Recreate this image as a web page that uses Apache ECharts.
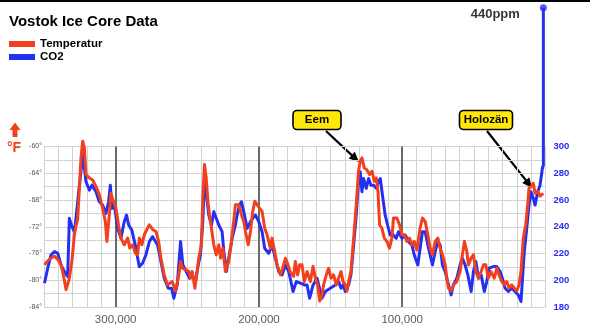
<!DOCTYPE html>
<html><head><meta charset="utf-8">
<script src="https://cdn.jsdelivr.net/npm/echarts@6/dist/echarts.min.js"></script>
<style>html,body{margin:0;padding:0;background:#fff}#c{width:590px;height:332px}</style>
</head><body><div id="c"></div><script>
// ---- data (ages in thousands of years before present) ----
const titleText = 'Vostok Ice Core Data';
const seriesNames = ['Temperatur', 'CO2'];
const xMajorTicks = [100, 200, 300];
const xTickLabels = {300: '300,000', 200: '200,000', 100: '100,000'};
const co2PeakLabel = '440ppm';
const annotations = ['Eem', 'Holozän'];

const temperature = [
[349.7,-77.7],[347.4,-77.1],[345.1,-76.7],[342.7,-76.4],[340.4,-76.9],[338.1,-77.7],[336.5,-79.2],[334.6,-81.4],[333.5,-81.6],[332.3,-79.7],
[330.5,-77.1],[328.8,-73.2],[327.7,-71.9],[326.5,-70.9],[325.3,-66.2],[324.2,-61.7],[323.0,-59.2],[321.8,-60.2],[320.7,-64.2],[318.3,-64.7],
[316.0,-65.0],[313.7,-66.0],[311.4,-67.2],[309.1,-69.2],[307.2,-71.2],[306.1,-74.2],[304.4,-70.2],[303.3,-67.0],[301.6,-68.2],[299.8,-69.2],
[297.9,-71.9],[296.3,-73.7],[294.0,-74.7],[291.6,-73.7],[290.1,-75.2],[288.2,-74.7],[286.3,-75.9],[284.7,-76.2],[283.5,-73.7],[281.7,-74.7],
[280.0,-73.2],[277.7,-72.2],[276.5,-71.7],[274.2,-72.4],[271.9,-72.7],[270.0,-74.2],[268.4,-76.7],[266.1,-79.2],[263.8,-80.7],[262.9,-80.7],
[260.5,-80.2],[258.2,-81.6],[255.9,-79.2],[254.7,-77.2],[253.5,-78.2],[251.2,-78.4],[248.9,-78.7],[247.7,-79.7],[246.6,-78.7],[244.7,-81.2],
[243.1,-78.7],[242.0,-76.7],[240.1,-74.7],[239.2,-67.7],[238.0,-62.7],[236.8,-64.7],[235.4,-68.7],[233.8,-71.2],[231.5,-74.7],[229.8,-76.2],
[228.0,-74.7],[226.8,-76.7],[225.2,-75.2],[223.4,-78.7],[221.1,-77.2],[219.2,-74.2],[217.6,-71.2],[216.4,-68.7],[214.1,-68.7],[212.2,-70.2],
[210.6,-71.2],[209.4,-72.7],[207.5,-74.7],[205.9,-72.7],[204.3,-69.7],[202.9,-68.2],[201.3,-68.7],[199.7,-69.2],[197.8,-69.7],[196.0,-72.2],
[194.3,-73.2],[192.0,-75.2],[190.8,-73.7],[189.0,-75.7],[187.3,-77.7],[185.0,-79.2],[183.4,-78.2],[181.5,-76.7],[179.7,-77.7],[178.1,-78.8],
[175.8,-79.4],[174.6,-77.2],[173.0,-79.2],[171.6,-77.7],[169.9,-77.7],[168.3,-80.2],[166.4,-78.7],[164.1,-80.2],[162.2,-77.9],[160.6,-79.7],
[159.0,-80.7],[157.6,-83.1],[156.0,-82.2],[154.9,-80.7],[153.0,-79.2],[151.4,-78.2],[149.7,-79.7],[147.9,-79.2],[146.0,-80.7],[144.4,-79.7],
[142.7,-78.7],[141.3,-80.2],[139.7,-80.7],[138.5,-81.6],[137.4,-80.2],[135.8,-78.7],[133.9,-73.7],[132.1,-68.7],[130.5,-63.7],[129.3,-62.2],
[128.1,-61.7],[126.5,-63.2],[124.6,-63.5],[122.8,-64.2],[121.1,-63.7],[119.5,-65.2],[118.1,-64.7],[116.9,-66.7],[115.8,-71.7],[114.2,-72.2],
[112.5,-73.7],[110.7,-74.2],[108.9,-75.2],[107.2,-73.7],[106.1,-70.7],[103.7,-70.7],[101.9,-71.7],[100.2,-73.2],[98.6,-73.2],[96.7,-74.2],
[94.9,-73.7],[93.2,-74.7],[91.6,-74.2],[89.8,-75.5],[87.5,-72.2],[85.9,-70.7],[84.0,-71.2],[82.1,-73.2],[80.5,-75.2],[78.9,-76.2],
[77.0,-74.2],[75.1,-73.7],[73.5,-75.2],[71.9,-76.2],[70.0,-77.7],[68.9,-79.7],[67.7,-81.2],[65.9,-81.6],[64.3,-80.7],[61.9,-80.2],
[59.6,-78.7],[58.0,-76.2],[56.6,-74.2],[54.9,-75.7],[53.8,-77.7],[51.9,-76.7],[50.3,-76.2],[48.6,-78.7],[46.8,-79.7],[44.9,-78.7],
[43.3,-77.7],[41.7,-77.7],[39.9,-79.7],[38.0,-78.7],[35.7,-79.7],[34.0,-78.2],[32.4,-79.2],[30.5,-80.2],[28.7,-80.7],[27.0,-80.2],
[25.4,-81.2],[23.6,-80.7],[21.7,-81.2],[20.1,-81.6],[18.5,-80.7],[17.1,-78.7],[15.5,-73.7],[13.8,-71.7],[12.4,-68.7],[11.5,-66.2],
[10.1,-66.0],[8.5,-65.5],[7.3,-67.0],[5.4,-66.7],[3.8,-67.4],[1.5,-67.0]
];

const co2 = [
[349.7,197.8],[347.4,209.0],[345.1,218.9],[342.7,221.4],[340.4,220.1],[338.1,211.4],[335.8,206.5],[333.5,202.8],[332.3,246.3],[330.5,240.1],
[328.8,236.3],[327.7,246.3],[325.3,271.1],[323.7,286.0],[323.0,294.8],[321.8,283.6],[320.7,273.7],[318.3,267.4],[316.5,271.1],[313.7,266.2],
[311.4,258.7],[309.1,256.2],[306.8,250.0],[304.9,258.7],[303.7,271.1],[302.6,253.7],[300.9,256.2],[298.6,238.8],[296.3,231.3],[294.0,243.8],
[292.4,248.7],[290.9,241.3],[288.7,237.5],[286.3,226.3],[283.5,210.2],[281.2,212.7],[278.9,218.9],[276.5,228.9],[274.2,232.6],[270.7,226.3],
[268.4,214.0],[266.1,201.5],[263.3,194.0],[261.0,194.0],[259.4,186.6],[257.0,196.5],[254.7,228.9],[253.1,211.4],[250.7,206.5],[248.4,201.5],
[246.6,204.0],[244.3,199.0],[242.4,211.4],[240.8,218.9],[239.2,243.8],[238.0,273.7],[236.6,263.7],[235.0,248.7],[233.1,241.3],[231.5,251.3],
[229.8,246.3],[228.0,241.3],[225.7,236.3],[224.5,221.4],[222.7,206.5],[221.1,216.4],[218.7,231.3],[216.4,241.3],[215.2,248.7],[213.6,256.2],
[212.2,258.7],[210.6,251.3],[208.2,238.8],[205.9,243.8],[204.3,246.3],[202.4,248.7],[200.1,243.8],[197.8,236.3],[196.0,223.9],[193.2,220.1],
[190.8,226.3],[188.5,216.4],[186.2,206.5],[183.8,204.0],[181.5,211.4],[179.2,206.5],[176.2,191.6],[173.9,199.0],[171.1,197.8],[168.3,196.5],
[166.4,196.5],[164.6,186.6],[162.2,196.5],[159.4,201.5],[157.2,191.6],[156.0,186.6],[153.7,191.6],[150.2,194.0],[146.7,196.5],[144.4,199.0],
[142.7,194.0],[141.3,196.5],[139.7,191.6],[137.4,196.5],[135.8,204.0],[133.9,226.3],[132.1,248.7],[130.5,273.7],[129.3,281.1],[128.1,266.2],
[127.0,276.1],[125.1,268.7],[123.5,276.1],[121.8,271.1],[120.0,271.1],[118.1,268.7],[116.5,273.7],[115.3,276.1],[113.5,261.2],[111.9,248.7],
[110.2,241.3],[108.4,233.8],[106.1,233.8],[104.2,231.3],[102.6,236.3],[100.2,231.3],[97.9,233.8],[95.6,228.9],[93.2,226.3],[91.6,218.9],
[89.1,211.4],[87.5,223.9],[85.9,236.3],[84.0,236.3],[82.1,226.3],[80.5,218.9],[78.9,211.4],[77.0,221.4],[75.1,228.9],[73.5,226.3],
[71.9,211.4],[70.0,206.5],[67.7,196.5],[65.9,189.0],[64.3,196.5],[61.9,201.5],[59.6,211.4],[58.0,216.4],[56.1,211.4],[54.2,204.0],
[51.9,191.6],[50.3,206.5],[48.6,214.0],[46.8,201.5],[44.9,204.0],[42.7,191.6],[41.0,199.0],[39.4,209.0],[36.4,210.2],[34.0,210.2],
[31.7,206.5],[30.1,201.5],[28.2,194.0],[25.9,191.6],[23.6,194.0],[21.3,191.6],[19.0,189.0],[17.1,184.1],[16.2,199.0],[14.8,221.4],
[13.1,238.8],[11.5,256.2],[10.1,266.2],[8.5,261.2],[7.3,256.2],[5.4,266.2],[3.8,271.1],[2.2,283.6],[1.5,286.0],[1.5,403.7]
];
const co2Peak = [co2[co2.length - 1]];

// ---- chart ----
const FONT = 'Liberation Sans, Arial, sans-serif';
const RED = '#f2401e', BLUE = '#2430f0';

function arrow(x1, y1, x2, y2) {
  const a = Math.atan2(y2 - y1, x2 - x1), L = 10, W = 4.5, S = 1.1;
  const c = Math.cos(a), s = Math.sin(a);
  const bx = x2 - L * c, by = y2 - L * s;
  const nx = -s, ny = c;
  return [{type: 'polygon', shape: {points: [
    [x1 + nx * S, y1 + ny * S], [bx + nx * S, by + ny * S], [bx + nx * W, by + ny * W], [x2, y2],
    [bx - nx * W, by - ny * W], [bx - nx * S, by - ny * S], [x1 - nx * S, y1 - ny * S]]},
    style: {fill: '#000'}}];
}
function tag(x, y, w, h, text) {
  return [
    {type: 'rect', shape: {x, y, width: w, height: h, r: 4}, style: {fill: '#ffe70a', stroke: '#000', lineWidth: 1.6}},
    {type: 'text', x: x + w / 2, y: y + h / 2, style: {text, fill: '#000', font: 'bold 11.5px ' + FONT,
      align: 'center', verticalAlign: 'middle', textAlign: 'center', textVerticalAlign: 'middle'}}
  ];
}

const chart = echarts.init(document.getElementById('c'), null, {renderer: 'canvas'});
chart.setOption({
  animation: false,
  backgroundColor: '#fff',
  title: {text: titleText, left: 9, top: 14, padding: 0,
    textStyle: {fontSize: 15, fontWeight: 'bold', color: '#000', fontFamily: FONT}},
  legend: {data: seriesNames, orient: 'vertical', left: 9, top: 38, padding: 0,
    icon: 'rect', itemWidth: 26, itemHeight: 6, itemGap: 1,
    textStyle: {fontSize: 11.5, fontWeight: 'bold', color: '#000', fontFamily: FONT}},
  grid: {left: 44, right: 44.5, top: 146.5, bottom: 25, containLabel: false},
  xAxis: {type: 'value', inverse: true, min: 0, max: 350, interval: 10,
    axisLine: {show: false}, axisTick: {show: false},
    axisLabel: {margin: 7, color: '#5a5a5a', fontSize: 11.5, fontFamily: FONT,
      formatter: v => xTickLabels[v] || ''},
    splitLine: {show: true, lineStyle: {color: '#d2d2d2', width: 1}}},
  yAxis: [
    {type: 'value', min: -84, max: -60, interval: 2,
      axisLine: {show: false}, axisTick: {show: false},
      axisLabel: {margin: 2, color: '#555', fontSize: 7, fontFamily: FONT,
        formatter: v => (v % 4 === 0 ? v + '°' : '')},
      splitLine: {show: true, lineStyle: {color: '#d2d2d2', width: 1}}},
    {type: 'value', min: 180, max: 300, interval: 10, position: 'right',
      axisLine: {show: false}, axisTick: {show: false},
      axisLabel: {margin: 8, color: '#2a2af0', fontSize: 9.5, fontWeight: 'bold', fontFamily: FONT,
        formatter: v => (v % 20 === 0 ? String(v) : '')},
      splitLine: {show: false}}
  ],
  series: [
    {name: 'CO2', type: 'line', yAxisIndex: 1, data: co2, showSymbol: false, clip: false,
      lineStyle: {color: BLUE, width: 3, join: 'round'}, itemStyle: {color: BLUE}, z: 3},
    {name: 'Temperatur', type: 'line', yAxisIndex: 0, data: temperature, showSymbol: false, clip: false,
      lineStyle: {color: RED, width: 3, join: 'round'}, itemStyle: {color: RED}, z: 4,
      markLine: {silent: true, symbol: 'none', z: 1, label: {show: false},
        lineStyle: {color: '#6a6a6a', width: 2, type: 'solid'},
        data: xMajorTicks.map(v => ({xAxis: v}))}},
    {name: 'peak', type: 'scatter', yAxisIndex: 1, data: co2Peak, clip: false,
      symbol: 'circle', symbolSize: 7, itemStyle: {color: BLUE}, z: 5,
      label: {show: true, position: 'left', distance: 20, offset: [0, 7],
        formatter: co2PeakLabel, color: '#000', fontWeight: 'bold', fontSize: 13, fontFamily: FONT}}
  ],
  graphic: [
    {type: 'rect', shape: {x: 0, y: 0, width: 590, height: 2}, style: {fill: '#000'}},
    {type: 'polygon', shape: {points: [[15, 122.5], [20.5, 130], [17.5, 130], [17.5, 137], [12.5, 137], [12.5, 130], [9.5, 130]]},
      style: {fill: RED}},
    {type: 'text', x: 14, y: 148.5, style: {text: '°F', fill: RED, font: 'bold 14px ' + FONT,
      align: 'center', verticalAlign: 'middle', textAlign: 'center', textVerticalAlign: 'middle'}},
    ...arrow(326, 131, 359, 162),
    ...arrow(487, 131, 532, 188),
    ...tag(293, 110.5, 48, 19, annotations[0]),
    ...tag(459.5, 110.5, 53, 19, annotations[1])
  ]
});
</script></body></html>
